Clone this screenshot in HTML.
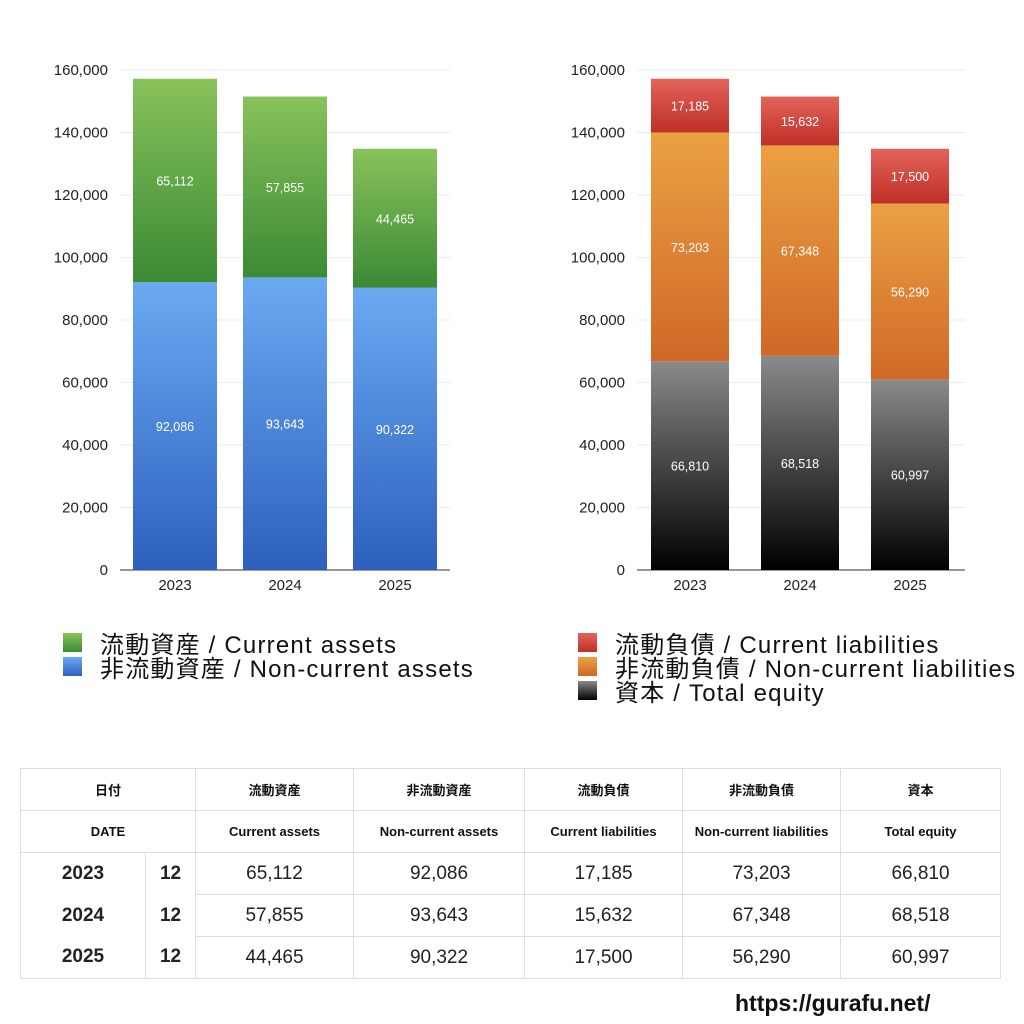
<!DOCTYPE html>
<html><head><meta charset="utf-8"><style>
body{margin:0;width:1024px;height:1024px;background:#fff;font-family:"Liberation Sans","Noto Sans CJK JP",sans-serif;position:relative;overflow:hidden}
table{position:absolute;left:20px;top:768px;border-collapse:collapse;width:980px;table-layout:fixed}
td{border:1px solid #ddd;text-align:center;color:#111;padding:0;white-space:nowrap}
tr.h td{height:41px;font-size:13px;font-weight:bold}
tr.d td{height:41px;font-size:19px;color:#222}
td.b{font-weight:bold;color:#111}
td.nb{border-top:none;border-bottom:none}
.leg{position:absolute;font-size:24px;letter-spacing:1.2px;color:#111;display:flex;align-items:center;height:24px;white-space:nowrap}
.sw{width:19px;height:19px;margin-right:18px}
</style></head><body>
<svg id="c" width="1024" height="620" style="position:absolute;left:0;top:0">
<defs>
<linearGradient id="gG" x1="0" y1="0" x2="0" y2="1"><stop offset="0" stop-color="#88c25a"/><stop offset="1" stop-color="#3b8a35"/></linearGradient>
<linearGradient id="gB" x1="0" y1="0" x2="0" y2="1"><stop offset="0" stop-color="#6aaaf2"/><stop offset="1" stop-color="#2d60be"/></linearGradient>
<linearGradient id="gR" x1="0" y1="0" x2="0" y2="1"><stop offset="0" stop-color="#e2645a"/><stop offset="1" stop-color="#bf2f28"/></linearGradient>
<linearGradient id="gO" x1="0" y1="0" x2="0" y2="1"><stop offset="0" stop-color="#eba142"/><stop offset="1" stop-color="#d06828"/></linearGradient>
<linearGradient id="gK" x1="0" y1="0" x2="0" y2="1"><stop offset="0" stop-color="#8a8a8a"/><stop offset="1" stop-color="#000"/></linearGradient>
</defs>
</svg>
<div class="leg" style="left:63px;top:630px"><div class="sw" style="background:linear-gradient(#88c25a,#3b8a35)"></div>流動資産 / Current assets</div>
<div class="leg" style="left:63px;top:654px"><div class="sw" style="background:linear-gradient(#6aaaf2,#2d60be)"></div>非流動資産 / Non-current assets</div>
<div class="leg" style="left:578px;top:630px"><div class="sw" style="background:linear-gradient(#e2645a,#bf2f28)"></div>流動負債 / Current liabilities</div>
<div class="leg" style="left:578px;top:654px"><div class="sw" style="background:linear-gradient(#eba142,#d06828)"></div>非流動負債 / Non-current liabilities</div>
<div class="leg" style="left:578px;top:678px"><div class="sw" style="background:linear-gradient(#8a8a8a,#000)"></div>資本 / Total equity</div>
<table>
<colgroup><col style="width:125px"><col style="width:50px"><col style="width:158px"><col style="width:171px"><col style="width:158px"><col style="width:158px"><col style="width:160px"></colgroup>
<tr class="h"><td colspan="2">日付</td><td>流動資産</td><td>非流動資産</td><td>流動負債</td><td>非流動負債</td><td>資本</td></tr>
<tr class="h"><td colspan="2">DATE</td><td>Current assets</td><td>Non-current assets</td><td>Current liabilities</td><td>Non-current liabilities</td><td>Total equity</td></tr>
<tr class="d"><td class="b nb">2023</td><td class="b nb">12</td><td>65,112</td><td>92,086</td><td>17,185</td><td>73,203</td><td>66,810</td></tr>
<tr class="d"><td class="b nb">2024</td><td class="b nb">12</td><td>57,855</td><td>93,643</td><td>15,632</td><td>67,348</td><td>68,518</td></tr>
<tr class="d"><td class="b nb" style="border-bottom:1px solid #ddd">2025</td><td class="b nb" style="border-bottom:1px solid #ddd">12</td><td>44,465</td><td>90,322</td><td>17,500</td><td>56,290</td><td>60,997</td></tr>
</table>
<div style="position:absolute;left:735px;top:990px;font-size:23px;font-weight:bold;color:#111">https://gurafu.net/</div>
<script>
const years=["2023","2024","2025"];
const currentAssets=[65112,57855,44465];
const nonCurrentAssets=[92086,93643,90322];
const currentLiab=[17185,15632,17500];
const nonCurrentLiab=[73203,67348,56290];
const equity=[66810,68518,60997];
const ticks=[0,20000,40000,60000,80000,100000,120000,140000,160000];
const NS="http://www.w3.org/2000/svg";
const svg=document.getElementById('c');
function mk(t,a){const e=document.createElementNS(NS,t);for(const k in a)e.setAttribute(k,a[k]);svg.appendChild(e);return e;}
const y=v=>570-v*500/160000;
function chart(x0,x1,firstBar,barW,step,stacks,name){
  ticks.forEach(t=>{
    const l=mk('line',{x1:x0,x2:x1,y1:y(t),y2:y(t),stroke:t?'#ebebeb':'#333','stroke-width':1});
    
    
    const tx=mk('text',{x:x0-12,y:y(t)+5,'text-anchor':'end','font-size':15,fill:'#222'});
    tx.textContent=t.toLocaleString('en-US');
    
    
  });
  years.forEach((yr,i)=>{
    const bx=firstBar+i*step;let base=0;
    stacks.forEach(s=>{
      const v=s.vals[i];
      const r=mk('rect',{x:bx,y:y(base+v),width:barW,height:y(base)-y(base+v),fill:s.fill});
      
      
      const lb=mk('text',{x:bx+barW/2,y:y(base+v/2)+5,'text-anchor':'middle','font-size':12.5,fill:'#fff'});
      lb.textContent=v.toLocaleString('en-US');
      
      
      base+=v;
    });
    const xt=mk('text',{x:bx+barW/2,y:590,'text-anchor':'middle','font-size':15,fill:'#222'});
    xt.textContent=yr;
    
    
  });
}
chart(120,450,133,84,110,[{vals:nonCurrentAssets,fill:'url(#gB)',name:'non-current-assets'},{vals:currentAssets,fill:'url(#gG)',name:'current-assets'}],'assets-chart');
chart(637,965,651,78,110,[{vals:equity,fill:'url(#gK)',name:'total-equity'},{vals:nonCurrentLiab,fill:'url(#gO)',name:'non-current-liabilities'},{vals:currentLiab,fill:'url(#gR)',name:'current-liabilities'}],'liabilities-chart');
</script>
</body></html>
